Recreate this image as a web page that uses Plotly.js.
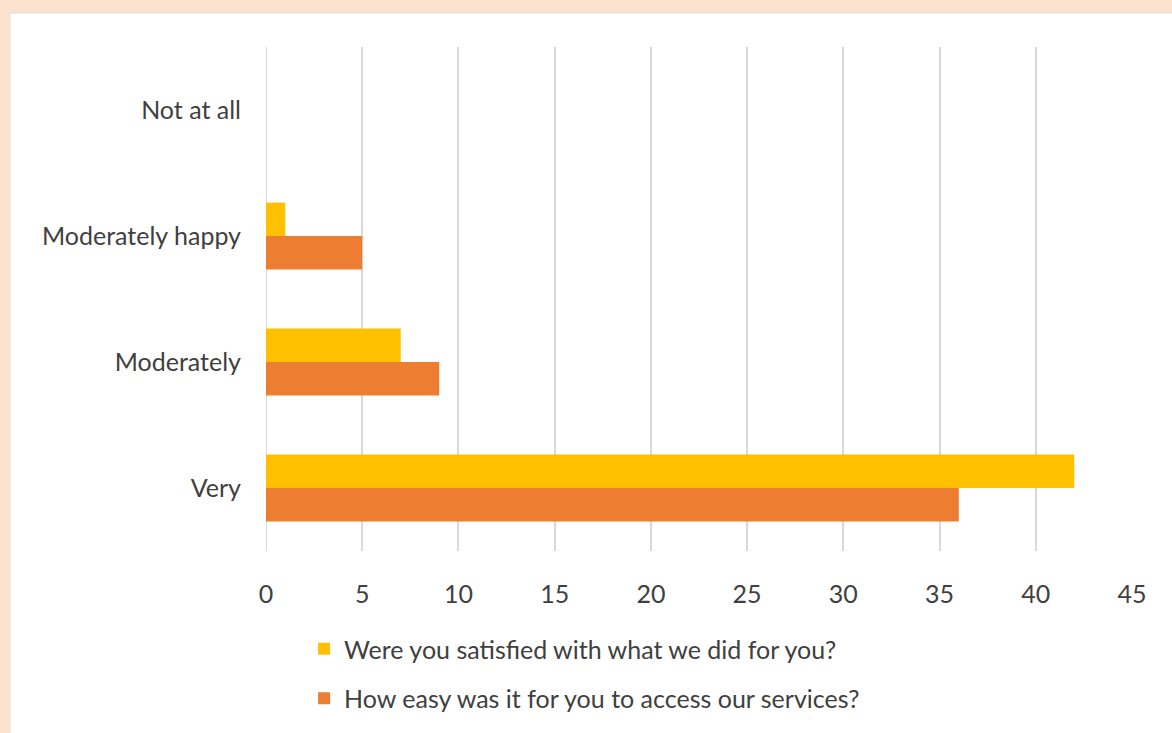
<!DOCTYPE html>
<html>
<head>
<meta charset="utf-8">
<script src="https://cdn.plot.ly/plotly-3.0.1.min.js"></script>
<style>html,body{margin:0;padding:0;background:#fbe3cf;}#chart{width:1172px;height:733px;}</style>
</head>
<body>
<div id="chart"></div>
<script>
const categories = ["Very", "Moderately", "Moderately happy", "Not at all"];
const satisfied = [42, 7, 1, 0];
const easyAccess = [36, 9, 5, 0];
const seriesNames = ["Were you satisfied with what we did for you?", "How easy was it for you to access our services?"];
const xTicks = [0, 5, 10, 15, 20, 25, 30, 35, 40, 45];

const font = {family: "Lato, 'Open Sans', sans-serif", size: 25, color: "#404040"};

const traces = [
  {type: "bar", orientation: "h", name: seriesNames[1], y: categories, x: easyAccess,
   marker: {color: "#ed7d31"}, legendgroup: "b", legendrank: 2},
  {type: "bar", orientation: "h", name: seriesNames[0], y: categories, x: satisfied,
   marker: {color: "#ffc000"}, legendgroup: "a", legendrank: 1}
];

const layout = {
  width: 1172, height: 733,
  paper_bgcolor: "#fbe3cf",
  plot_bgcolor: "rgba(0,0,0,0)",
  margin: {l: 266, r: 40, t: 47, b: 182},
  barmode: "group",
  bargap: 0.47,
  bargroupgap: 0,
  font: font,
  showlegend: true,
  legend: {x: 0.044, y: 1 - 626/733, yref: "container", xanchor: "left", yanchor: "top", orientation: "v",
    font: {family: font.family, size: 25, color: "#404040"}, tracegroupgap: 14,
    bgcolor: "rgba(0,0,0,0)", itemwidth: 30},
  xaxis: {range: [0, 45], tickvals: xTicks, ticktext: xTicks.map(String), showgrid: true,
    gridcolor: "#d9d9d9", gridwidth: 2, zeroline: false, showline: false,
    ticks: "", ticklabelstandoff: 26, fixedrange: true},
  yaxis: {type: "category", categoryorder: "array", categoryarray: categories,
    showgrid: false, zeroline: false, showline: false, ticks: "", ticklabelstandoff: 24},
  shapes: [
    {type: "rect", xref: "paper", yref: "paper", layer: "below",
     x0: -256/866, x1: 1.1, y0: -1, y1: (551-13)/504,
     fillcolor: "#ffffff", line: {color: "#e6ddd5", width: 1}},
    {type: "line", xref: "x", yref: "paper", x0: 0, x1: 0, y0: 0, y1: 1,
     line: {color: "#d9d9d9", width: 2}, layer: "below"}
  ]
};

Plotly.newPlot("chart", traces, layout, {displayModeBar: false, staticPlot: true});
</script>
</body>
</html>
